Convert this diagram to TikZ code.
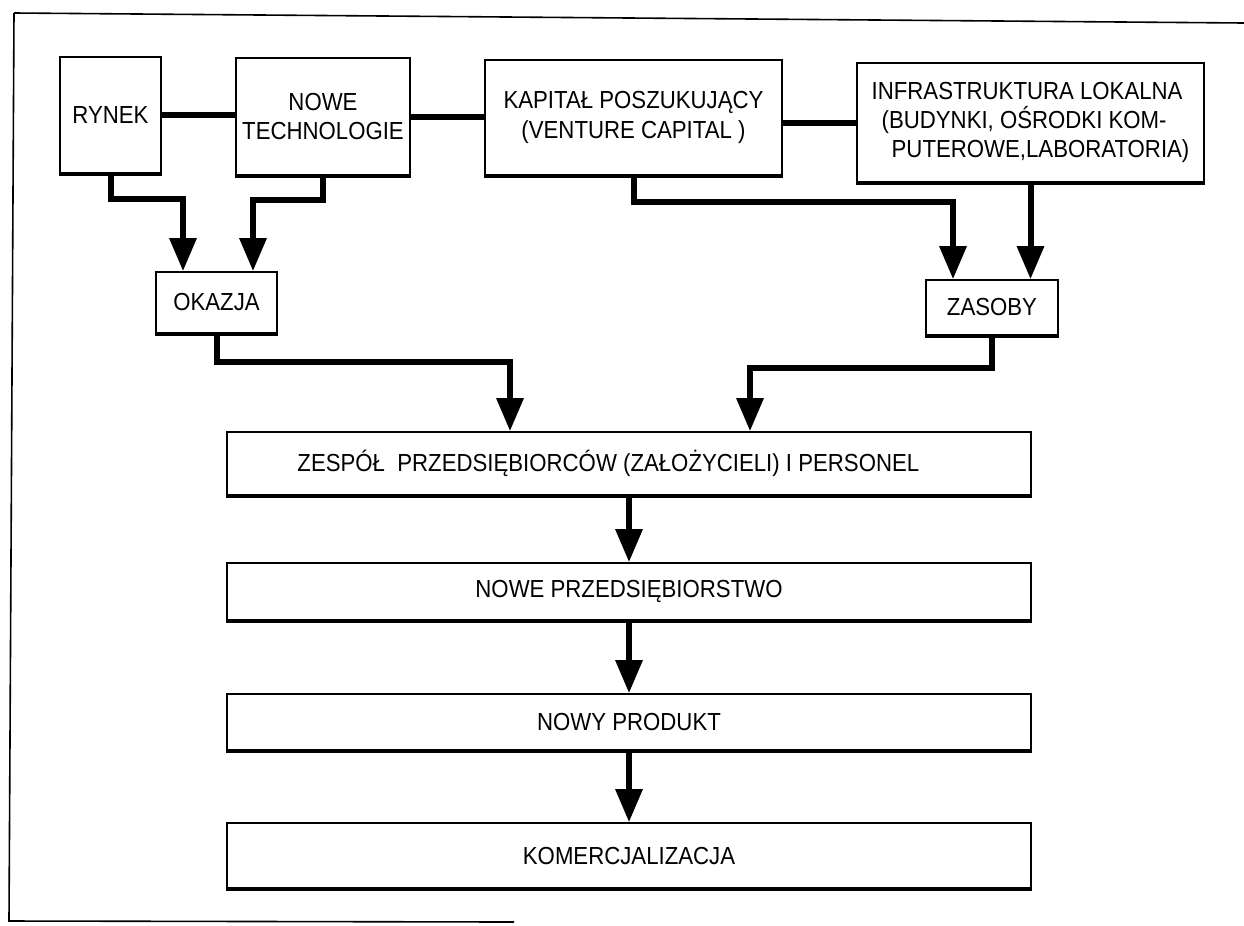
\documentclass[tikz,border=0pt]{standalone}
\usepackage{fontspec}
\setmainfont{Liberation Sans}[FakeStretch=0.9]
\usetikzlibrary{arrows.meta}
\begin{document}
\begin{tikzpicture}[x=0.75pt,y=-0.75pt,
  box/.style={draw, line width=1.2pt, inner sep=0pt, align=center,
    font=\fontsize{18.5}{22}\selectfont},
  conn/.style={line width=4.5pt, -{Triangle[width=19.5pt,length=24.75pt]}},
  link/.style={line width=4.5pt},
  bottomedge/.style={line width=3pt},
  frame/.style={line width=1.2pt}]
\useasboundingbox (0,0) rectangle (1244,925);
% frame
\draw[frame] (14,13) -- (1244,23);
\draw[frame] (14,13) -- (9,921) -- (514,922);
% boxes
\node[box, minimum width=75.75pt, minimum height=87pt] (rynek) at (110.5,115) {RYNEK};
\node[box, minimum width=130.5pt, minimum height=87.75pt] (tech) at (323,116.5) {NOWE\\TECHNOLOGIE};
\node[box, minimum width=222.75pt, minimum height=86.25pt] (kap) at (633.5,117.5) {KAPITAŁ POSZUKUJĄCY\\(VENTURE CAPITAL )};
\node[box, align=left, minimum width=260.25pt, minimum height=89.25pt] (infra) at (1030.5,122.5)
  {INFRASTRUKTURA LOKALNA\\\hspace*{7.5pt}(BUDYNKI, OŚRODKI KOM-\\\hspace*{15pt}PUTEROWE,LABORATORIA)};
\node[box, minimum width=90.75pt, minimum height=45.75pt] (okazja) at (216.5,302.5) {OKAZJA};
\node[box, minimum width=99pt, minimum height=41.25pt] (zasoby) at (992,307.5) {ZASOBY};
\node[box, minimum width=603pt, minimum height=47.25pt] (zespol) at (629,463.5)
  {ZESPÓŁ\ \ PRZEDSIĘBIORCÓW (ZAŁOŻYCIELI) I PERSONEL\hspace*{31pt}};
\node[box, minimum width=603pt, minimum height=42.75pt] (nowe) at (629,591.5) {NOWE PRZEDSIĘBIORSTWO};
\node[box, minimum width=603pt, minimum height=42pt] (produkt) at (629,722) {NOWY PRODUKT};
\node[box, minimum width=603pt, minimum height=48.75pt] (komerc) at (629,855.5) {KOMERCJALIZACJA};
\foreach \n in {rynek,tech,kap,infra,okazja,zasoby,zespol,nowe,produkt,komerc}
  \draw[bottomedge] (\n.south west) -- (\n.south east);
% horizontal links between top boxes
\draw[link] (rynek.east) -- (rynek.east -| tech.west);
\draw[link] (tech.east) -- (tech.east -| kap.west);
\draw[link] (infra.west -| kap.east) -- (infra.west);
% bend coordinates
\coordinate (a1) at (183,199);
\coordinate (a2) at (253,200);
\coordinate (a3) at (953,202);
\coordinate (a5) at (510,362);
\coordinate (a6) at (750,368);
% connectors
\draw[conn] (rynek.south) |- (a1) -- (a1 |- okazja.north);
\draw[conn] (tech.south) |- (a2) -- (a2 |- okazja.north);
\draw[conn] (kap.south) |- (a3) -- (a3 |- zasoby.north);
\draw[conn] (infra.south) -- (infra.south |- zasoby.north);
\draw[conn] (okazja.south) |- (a5) -- (a5 |- zespol.north);
\draw[conn] (zasoby.south) |- (a6) -- (a6 |- zespol.north);
\draw[conn] (zespol.south) -- (nowe.north);
\draw[conn] (nowe.south) -- (produkt.north);
\draw[conn] (produkt.south) -- (komerc.north);
\end{tikzpicture}
\end{document}
